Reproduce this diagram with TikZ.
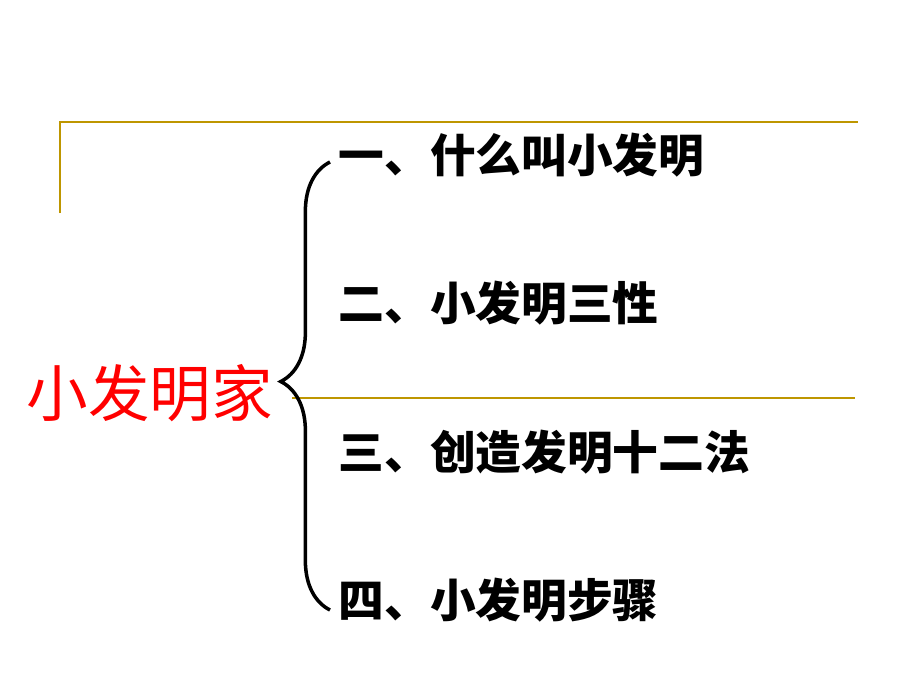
\documentclass[tikz,border=0pt]{standalone}
\usepackage{fontspec}
\newfontfamily\cjk{Noto Sans CJK SC}
\usetikzlibrary{decorations.pathreplacing}
\definecolor{gold}{RGB}{190,150,0}
\tikzset{item/.style={anchor=west, inner sep=0pt, font=\cjk\bfseries\fontsize{13pt}{15pt}\selectfont}}
\begin{document}
\begin{tikzpicture}[x=0.01cm, y=-0.01cm]
\useasboundingbox (0,0) rectangle (920,690);
\draw[gold, line width=0.7pt] (60,213) -- (60,122) -- (858,122);
\draw[gold, line width=0.7pt] (292,398) -- (855,398);
\node (title) at (150,393) {\cjk\fontsize{17.5pt}{20pt}\selectfont\color{red}小发明家};
\node[item] (1) at (338,155) {一、什么叫小发明};
\node[item] (2) at (338,303) {二、小发明三性};
\node[item] (3) at (338,452) {三、创造发明十二法};
\node[item] (4) at (338,600) {四、小发明步骤};
\coordinate (bt) at (330,162);
\coordinate (bb) at (330,610);
\draw[line width=1pt, decorate, decoration={brace, amplitude=14pt, aspect=0.51}] (bb) -- (bt);
\end{tikzpicture}
\end{document}
